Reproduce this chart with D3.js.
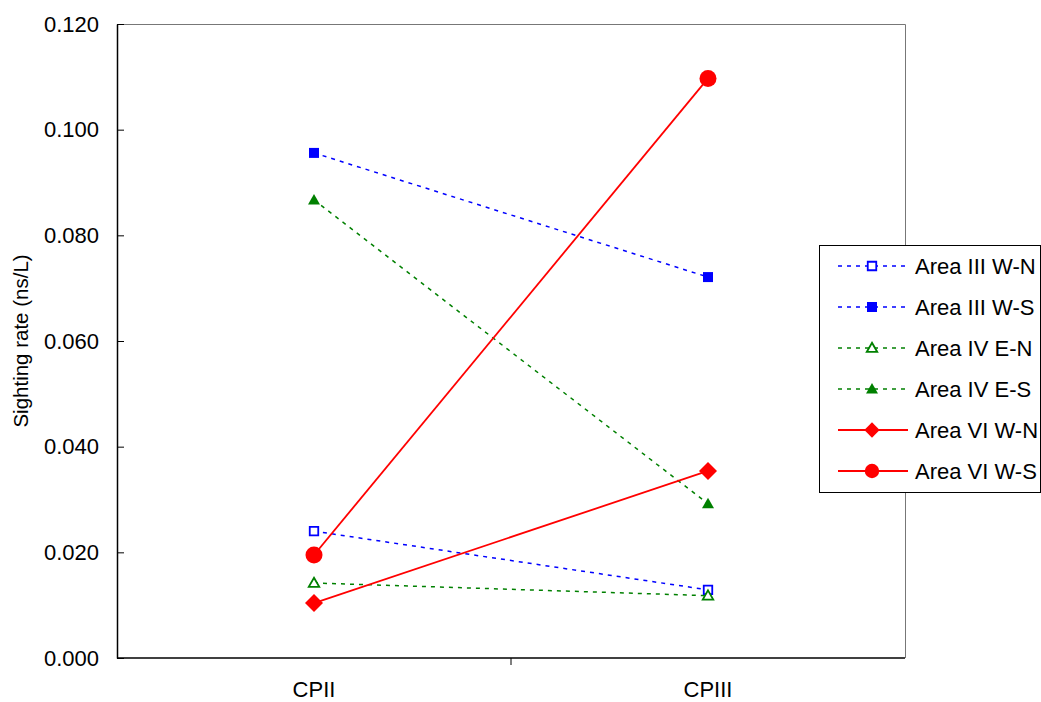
<!DOCTYPE html>
<html>
<head>
<meta charset="utf-8">
<script src="https://cdn.jsdelivr.net/npm/d3@7"></script>
<style>
  body { margin: 0; background: #fff; }
  text { font-family: "Liberation Sans", Arial, sans-serif; fill: #000; }
</style>
</head>
<body>
<svg width="1041" height="702"></svg>
<script>
// data
var categories = ["CPII", "CPIII"];
var seriesNames = ["Area III W-N", "Area III W-S", "Area IV E-N", "Area IV E-S", "Area VI W-N", "Area VI W-S"];
var areaIIIWN = [0.0240, 0.0129];
var areaIIIWS = [0.0956, 0.0721];
var areaIVEN = [0.0142, 0.0118];
var areaIVES = [0.0867, 0.0292];
var areaVIWN = [0.0104, 0.0354];
var areaVIWS = [0.0195, 0.1097];
var yTicks = [0, 0.02, 0.04, 0.06, 0.08, 0.1, 0.12];

var seriesValues = [areaIIIWN, areaIIIWS, areaIVEN, areaIVES, areaVIWN, areaVIWS];
// look of each series
var styles = [
    {color: "#0000ff", dash: "4,5", width: 1.5, shape: "square", fill: false, size: 10},
    {color: "#0000ff", dash: "4,5", width: 1.5, shape: "square", fill: true, size: 10},
    {color: "#008000", dash: "4,5", width: 1.5, shape: "triangle", fill: false, size: 12},
    {color: "#008000", dash: "4,5", width: 1.5, shape: "triangle", fill: true, size: 12},
    {color: "#ff0000", dash: null, width: 1.8, shape: "diamond", fill: true, size: 18},
    {color: "#ff0000", dash: null, width: 1.8, shape: "circle", fill: true, size: 17}
];

var svg = d3.select("svg"),
    margin = {left: 117, right: 136, top: 24, bottom: 44},
    width = +svg.attr("width"),
    height = +svg.attr("height");

var x = d3.scaleBand()
    .domain(categories)
    .range([margin.left, width - margin.right])
    .padding(0);

var y = d3.scaleLinear()
    .domain([0, 0.12])
    .range([height - margin.bottom, margin.top]);

function cx(c) { return x(c) + x.bandwidth() / 2; }

function markerPath(shape, s) {
    var h = s / 2;
    if (shape == "square") return "M" + (-h) + "," + (-h) + "H" + h + "V" + h + "H" + (-h) + "Z";
    if (shape == "triangle") return "M0," + (-h) + "L" + h + "," + (h * 0.75) + "H" + (-h) + "Z";
    if (shape == "diamond") return "M0," + (-h) + "L" + h + ",0L0," + h + "L" + (-h) + ",0Z";
    return d3.arc()({innerRadius: 0, outerRadius: h, startAngle: 0, endAngle: 2 * Math.PI});
}

function drawMarker(g, st, scale) {
    var s = st.size * (scale || 1);
    g.append("path")
        .attr("d", markerPath(st.shape, st.fill ? s : s - 1.5))
        .attr("fill", st.fill ? st.color : "#fff")
        .attr("stroke", st.color)
        .attr("stroke-width", st.fill ? 0 : 1.8);
}

// plot frame: top / right lighter
var x0 = margin.left, x1 = width - margin.right, y0 = margin.top, y1 = height - margin.bottom;
svg.append("path")
    .attr("d", "M" + x0 + "," + (y0 + 0.5) + "H" + (x1 + 0.5) + "V" + y1)
    .attr("fill", "none")
    .attr("stroke", "#777")
    .attr("stroke-width", 1);

// y axis, ticks inward
var yAxis = svg.append("g")
    .attr("transform", "translate(" + x0 + ",0)")
    .call(d3.axisLeft(y).tickValues(yTicks).tickFormat(d3.format(".3f"))
        .tickSizeInner(-7).tickSizeOuter(0).tickPadding(18));
yAxis.select(".domain").attr("stroke", "#000").attr("stroke-width", 1.5);
yAxis.selectAll(".tick line").attr("stroke", "#000");
yAxis.selectAll("text")
    .attr("font-size", 22)
    .attr("font-family", "Liberation Sans, Arial, sans-serif")
    .attr("fill", "#000");

// x axis
svg.append("line")
    .attr("x1", x0).attr("x2", x1)
    .attr("y1", y1).attr("y2", y1)
    .attr("stroke", "#000").attr("stroke-width", 1.5);
svg.append("line")
    .attr("x1", x(categories[1])).attr("x2", x(categories[1]))
    .attr("y1", y1).attr("y2", y1 + 7)
    .attr("stroke", "#000");
svg.selectAll(".xlab")
    .data(categories)
    .enter().append("text")
    .attr("class", "xlab")
    .attr("x", function(d) { return cx(d); })
    .attr("y", 697)
    .attr("text-anchor", "middle")
    .attr("font-size", 22)
    .text(function(d) { return d; });

// y label
svg.append("text")
    .attr("transform", "translate(28," + ((y0 + y1) / 2) + ") rotate(-90)")
    .attr("text-anchor", "middle")
    .attr("font-size", 20.5)
    .text("Sighting rate (ns/L)");

// series
var line = d3.line()
    .x(function(d, i) { return cx(categories[i]); })
    .y(function(d) { return y(d); });

seriesValues.forEach(function(vals, k) {
    var st = styles[k];
    svg.append("path")
        .datum(vals)
        .attr("d", line)
        .attr("fill", "none")
        .attr("stroke", st.color)
        .attr("stroke-width", st.width)
        .attr("stroke-dasharray", st.dash);
});
seriesValues.forEach(function(vals, k) {
    vals.forEach(function(v, i) {
        var g = svg.append("g").attr("transform", "translate(" + cx(categories[i]) + "," + y(v) + ")");
        drawMarker(g, styles[k]);
    });
});

// legend
var legend = svg.append("g");
legend.append("rect")
    .attr("x", 819.5).attr("y", 245.5)
    .attr("width", 221).attr("height", 247)
    .attr("fill", "#fff").attr("stroke", "#000");
seriesNames.forEach(function(name, i) {
    var st = styles[i], ly = 266 + i * 41;
    legend.append("line")
        .attr("x1", 838).attr("x2", 908)
        .attr("y1", ly).attr("y2", ly)
        .attr("stroke", st.color)
        .attr("stroke-width", st.width)
        .attr("stroke-dasharray", st.dash);
    var g = legend.append("g").attr("transform", "translate(872," + ly + ")");
    drawMarker(g, st, st.shape == "circle" || st.shape == "diamond" ? 0.85 : 1);
    legend.append("text")
        .attr("x", 915).attr("y", ly)
        .attr("dy", "0.35em")
        .attr("font-size", 22)
        .text(name);
});
</script>
</body>
</html>
